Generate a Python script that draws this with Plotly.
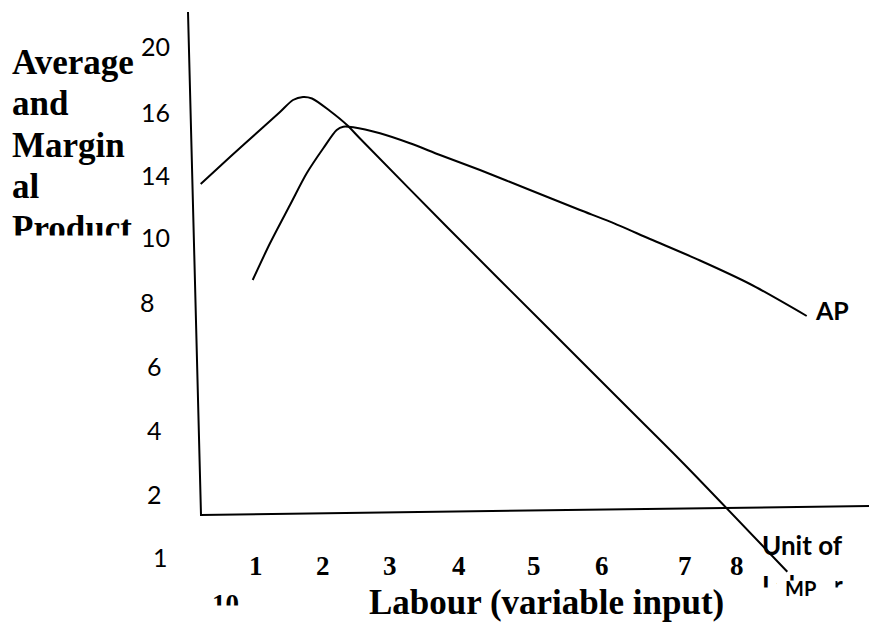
import plotly.graph_objects as go

# ---- data (drawing frame: x to the right, y downward) ----
axis_x = [188, 201, 869]
axis_y = [12, 515, 506]

mp_x = [200.7, 230, 260, 280, 293, 303, 312, 330, 347, 360, 448, 550, 633, 683, 787.3]
mp_y = [184, 157, 130, 112, 100, 97, 98.5, 111, 125, 138.5, 228, 330, 413, 463, 571.7]

ap_x = [252.7, 270, 290, 306.7, 323.3, 336.7, 343.3, 353.3, 380, 410, 440, 480, 530, 580, 610, 650, 700, 750, 806.7]
ap_y = [280, 243.3, 205, 173.3, 148.3, 130, 126.7, 127.3, 133.3, 143.3, 155, 170, 190, 210, 221.7, 239, 260.5, 284, 316]

ytick_text = ["20", "16", "14", "10", "8", "6", "4", "2", "1"]
xtick_text = ["1", "2", "3", "4", "5", "6", "7", "8"]
ytitle_lines = ["Average", "and", "Margin", "al", "Product"]

# ---- positions / styles ----
ytick_px = [155, 155, 155, 155, 147, 154, 154, 154, 160]
ytick_py = [46, 112, 175, 237, 302, 366, 430, 494, 557]
xtick_px = [256, 323, 390, 459, 534, 602, 685, 737]
xtick_py = 566
ytitle_py = [62, 103.5, 145, 186.5, 228]

W, H = 869, 623

SANS = "Lato, 'Open Sans', sans-serif"
SERIF = "'Liberation Serif', 'Times New Roman', serif"

fig = go.Figure()
fig.add_trace(go.Scatter(x=axis_x, y=axis_y, mode="lines",
                         line=dict(color="black", width=2), hoverinfo="skip"))
fig.add_trace(go.Scatter(x=mp_x, y=mp_y, mode="lines",
                         line=dict(color="black", width=2, shape="spline", smoothing=0.8),
                         hoverinfo="skip"))
fig.add_trace(go.Scatter(x=ap_x, y=ap_y, mode="lines",
                         line=dict(color="black", width=2, shape="spline", smoothing=0.8),
                         hoverinfo="skip"))


def cover(x0, y0, w, h):
    return dict(x=x0, y=y0, text=" ", xanchor="left", yanchor="top", width=w, height=h,
                bgcolor="white", borderpad=0, font=dict(size=6))


ann = []
for t, px, py in zip(ytick_text, ytick_px, ytick_py):
    ann.append(dict(x=px, y=py, text=t, xanchor="center", yanchor="middle",
                    font=dict(family=SANS, size=25, color="black")))
for t, py in zip(ytitle_lines, ytitle_py):
    ann.append(dict(x=10, y=py, text="<b>%s</b>" % t, xanchor="left", yanchor="middle",
                    font=dict(family=SERIF, size=35, color="black")))
ann.append(cover(8, 235, 130, 16))
for t, px in zip(xtick_text, xtick_px):
    ann.append(dict(x=px, y=xtick_py, text="<b>%s</b>" % t, xanchor="center", yanchor="middle",
                    font=dict(family=SERIF, size=27, color="black")))
ann.append(dict(x=225, y=604, text="<b>10</b>", xanchor="center", yanchor="middle",
                font=dict(family=SERIF, size=27, color="black")))
ann.append(cover(205, 605, 45, 18))
ann.append(dict(x=546, y=602, text="<b>Labour (variable input)</b>", xanchor="center", yanchor="middle",
                font=dict(family=SERIF, size=35, color="black")))
ann.append(dict(x=832, y=310, text="<b>AP</b>", xanchor="center", yanchor="middle",
                font=dict(family=SANS, size=25, color="black")))
ann.append(dict(x=760, y=545, text="<b>Unit of</b>", xanchor="left", yanchor="middle",
                font=dict(family=SANS, size=26, color="black")))
ann.append(dict(x=760, y=584.5, text="<b>Labour</b>", xanchor="left", yanchor="middle",
                font=dict(family=SANS, size=26, color="black")))
ann.append(cover(758, 587, 108, 36))
ann.append(cover(776, 580, 58, 43))
ann.append(dict(x=800, y=588, text="<b>MP</b>", xanchor="center", yanchor="middle",
                font=dict(family=SANS, size=20, color="black")))
for a in ann:
    a.update(xref="x", yref="y", showarrow=False)

fig.update_layout(
    width=W, height=H,
    margin=dict(l=0, r=0, t=0, b=0),
    paper_bgcolor="white", plot_bgcolor="white",
    showlegend=False,
    xaxis=dict(range=[0, W], visible=False, fixedrange=True),
    yaxis=dict(range=[H, 0], visible=False, fixedrange=True),
    annotations=ann,
)
fig.write_html(
    "out.html",
    config=dict(displayModeBar=False, staticPlot=True),
    post_script="document.body.style.margin='0px';document.body.style.overflow='hidden';"
                "document.documentElement.style.overflow='hidden';",
)
